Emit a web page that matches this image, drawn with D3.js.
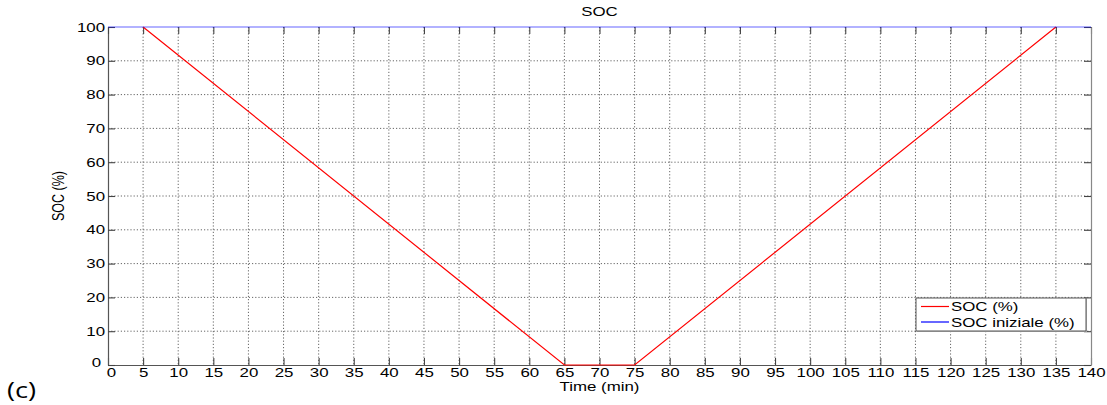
<!DOCTYPE html>
<html>
<head>
<meta charset="utf-8">
<script src="https://cdn.jsdelivr.net/npm/d3@7"></script>
<style>
  html, body { margin: 0; padding: 0; background: #fff; }
  svg { display: block; }
  text { font-family: "Liberation Sans", Arial, Helvetica, sans-serif; fill: #000; }
</style>
</head>
<body>
<svg id="chart" width="1107" height="405"></svg>
<script>
// State of charge over time (minutes)
const socTime = [5, 65, 75, 135];
const socValue = [100, 0, 0, 100];
const initTime = [0, 140];
const initValue = [100, 100];
const xTicks = d3.range(0, 141, 5);
const yTicks = d3.range(0, 101, 10);
const seriesNames = ["SOC (%)", "SOC iniziale (%)"];
const seriesColors = ["#ff0000", "#0000ff"];

const W = 1107, H = 405;
const m = { left: 108, right: W - 1091, top: 27, bottom: H - 365 };
const iw = W - m.left - m.right, ih = H - m.top - m.bottom;
const SX = 1.35;      // horizontal stretch of the exported figure text
const FS = 12.5;

const svg = d3.select("#chart");
const g = svg.append("g").attr("transform", `translate(${m.left},${m.top})`);

const x = d3.scaleLinear().domain([0, 140]).range([0, iw]);
const y = d3.scaleLinear().domain([0, 100]).range([ih, 0]);

// Dotted grid
g.append("g").selectAll("line").data(xTicks.filter(d => d > 0 && d < 140)).join("line")
  .attr("x1", d => x(d)).attr("x2", d => x(d)).attr("y1", 0).attr("y2", ih)
  .attr("stroke", "#555").attr("stroke-width", 0.9).attr("stroke-dasharray", "1.2,2");
g.append("g").selectAll("line").data(yTicks.filter(d => d > 0 && d < 100)).join("line")
  .attr("y1", d => y(d)).attr("y2", d => y(d)).attr("x1", 0).attr("x2", iw)
  .attr("stroke", "#555").attr("stroke-width", 0.9).attr("stroke-dasharray", "1.2,2");

function styleAxis(sel, labels) {
  sel.select(".domain").attr("stroke", "#555").attr("stroke-width", 1.2);
  sel.selectAll(".tick line").attr("stroke", "#444").attr("stroke-width", 1.1);
  if (!labels) sel.selectAll(".tick text").remove();
  sel.selectAll(".tick text").attr("font-size", FS).attr("fill", "#000")
    .style("font-family", '"Liberation Sans", Arial, sans-serif');
}

// Box axes with inward ticks
const xb = g.append("g").attr("transform", `translate(0,${ih})`)
  .call(d3.axisBottom(x).tickValues(xTicks).tickSizeInner(-7).tickSizeOuter(0).tickPadding(3).tickFormat(d3.format("d")));
styleAxis(xb, true);
xb.selectAll(".tick text").attr("transform", `scale(${SX},1)`);

const yl = g.append("g")
  .call(d3.axisLeft(y).tickValues(yTicks).tickSizeInner(-7).tickSizeOuter(0).tickPadding(3 / SX).tickFormat(d3.format("d")));
styleAxis(yl, true);
yl.selectAll(".tick text").attr("transform", `scale(${SX},1)`);
// the zero labels sit just off the corner
yl.selectAll(".tick").filter(d => d === 0).select("text").attr("dy", "0.1em").attr("x", -7 / SX);
xb.selectAll(".tick").filter(d => d === 0).select("text").attr("x", 3 / SX);

const xt = g.append("g")
  .call(d3.axisTop(x).tickValues(xTicks).tickSizeInner(-7).tickSizeOuter(0));
styleAxis(xt, false);
xt.select(".domain").remove();
const yr = g.append("g").attr("transform", `translate(${iw},0)`)
  .call(d3.axisRight(y).tickValues(yTicks).tickSizeInner(-7).tickSizeOuter(0));
styleAxis(yr, false);
yr.select(".domain").attr("stroke", "#888");

// Series
const line = d3.line().x(d => x(d[0])).y(d => y(d[1]));
g.append("path").datum(d3.zip(socTime, socValue)).attr("d", line)
  .attr("fill", "none").attr("stroke", seriesColors[0]).attr("stroke-width", 1.2);
g.append("path").datum(d3.zip(initTime, initValue)).attr("d", line)
  .attr("fill", "none").attr("stroke", seriesColors[1]).attr("stroke-width", 2).attr("stroke-opacity", 0.3);

// Stretched text helper
function stext(px, py, str, opts = {}) {
  return svg.append("text")
    .attr("transform", `translate(${px},${py}) scale(${SX},1)` + (opts.rotate ? ` rotate(${opts.rotate})` : ""))
    .attr("text-anchor", opts.anchor || "middle")
    .attr("font-size", opts.size || FS)
    .text(str);
}

stext(m.left + iw / 2, 16, "SOC");
stext(m.left + iw / 2, 390.5, "Time (min)");
stext(64, m.top + ih / 2, "SOC (%)", { rotate: -90 });

// Legend
const lg = svg.append("g").attr("transform", "translate(916,298)");
lg.append("rect").attr("x", 1).attr("y", 1).attr("width", 170).attr("height", 33).attr("fill", "#bbb");
lg.append("rect").attr("width", 170).attr("height", 33).attr("fill", "#fff").attr("stroke", "#555").attr("stroke-width", 1);
seriesNames.forEach((name, i) => {
  const ly = 8.5 + i * 15.5;
  lg.append("line").attr("x1", 5).attr("x2", 33).attr("y1", ly).attr("y2", ly)
    .attr("stroke", seriesColors[i]).attr("stroke-width", 1.2);
  lg.append("text").attr("transform", `translate(35,${ly + 4.5}) scale(${SX},1)`)
    .attr("font-size", FS).text(name);
});

// Panel labels
svg.append("text").attr("transform", `translate(7,398) scale(1.3,1)`)
  .attr("font-size", 21).style("font-family", '"Open Sans", "DejaVu Sans", sans-serif').text("(c)");
svg.append("text").attr("transform", `translate(7,-3) scale(1.3,1)`)
  .attr("font-size", 21).style("font-family", '"Open Sans", "DejaVu Sans", sans-serif').text("(b)");
</script>
</body>
</html>
